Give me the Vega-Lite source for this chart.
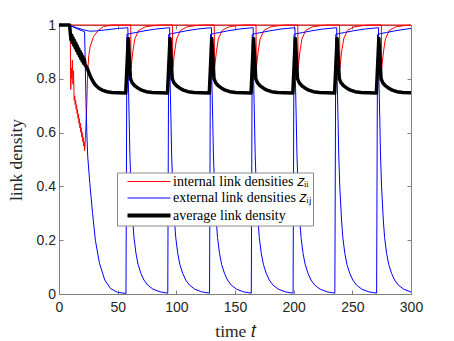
{
  "$schema": "https://vega.github.io/schema/vega-lite/v6.json",
  "width": 352,
  "height": 269,
  "autosize": "none",
  "padding": {"left": 59, "top": 25, "right": 43, "bottom": 47},
  "background": "white",
  "config": {
    "view": {"stroke": "#808080", "strokeWidth": 1},
    "axis": {
      "domainColor": "#808080", "tickColor": "#808080", "labelColor": "#262626", "titleColor": "#262626",
      "labelFont": "Liberation Sans", "labelFontSize": 14, "titleFont": "Liberation Serif", "titleFontSize": 17.5,
      "titleFontWeight": "normal", "grid": false, "tickSize": -4, "labelFlush": false
    }
  },
  "datasets": {
    "red": [
      {"k":"i","g":"R0","t":0,"v":1},{"k":"i","g":"R0","t":300,"v":1},
      {"k":"i","g":"R1","t":0,"v":1},{"k":"i","g":"R1","t":9.6,"v":1},{"k":"i","g":"R1","t":10,"v":0.76},{"k":"i","g":"R1","t":10.5,"v":0.84},{"k":"i","g":"R1","t":10.9,"v":0.8},{"k":"i","g":"R1","t":11.4,"v":0.87},{"k":"i","g":"R1","t":11.9,"v":0.78},{"k":"i","g":"R1","t":12.4,"v":0.83},{"k":"i","g":"R1","t":12.9,"v":0.72},
      {"k":"i","g":"R1","t":13.4,"v":0.737},{"k":"i","g":"R1","t":13.8,"v":0.704},{"k":"i","g":"R1","t":14.2,"v":0.72},{"k":"i","g":"R1","t":14.6,"v":0.687},{"k":"i","g":"R1","t":15,"v":0.703},{"k":"i","g":"R1","t":15.4,"v":0.67},{"k":"i","g":"R1","t":15.8,"v":0.686},{"k":"i","g":"R1","t":16.2,"v":0.653},{"k":"i","g":"R1","t":16.6,"v":0.669},{"k":"i","g":"R1","t":17,"v":0.635},{"k":"i","g":"R1","t":17.4,"v":0.652},{"k":"i","g":"R1","t":17.8,"v":0.618},{"k":"i","g":"R1","t":18.2,"v":0.635},{"k":"i","g":"R1","t":18.6,"v":0.601},{"k":"i","g":"R1","t":19,"v":0.618},{"k":"i","g":"R1","t":19.4,"v":0.584},{"k":"i","g":"R1","t":19.8,"v":0.6},{"k":"i","g":"R1","t":20.2,"v":0.567},{"k":"i","g":"R1","t":20.6,"v":0.583},{"k":"i","g":"R1","t":21,"v":0.55},{"k":"i","g":"R1","t":21.4,"v":0.566},{"k":"i","g":"R1","t":21.8,"v":0.533},
      {"k":"i","g":"R1","t":22.3,"v":0.56},{"k":"i","g":"R1","t":23.7,"v":0.709},{"k":"i","g":"R1","t":24.5,"v":0.833},{"k":"i","g":"R1","t":25.5,"v":0.89},{"k":"i","g":"R1","t":26.6,"v":0.92},{"k":"i","g":"R1","t":29.4,"v":0.957},{"k":"i","g":"R1","t":33.7,"v":0.981},{"k":"i","g":"R1","t":37.9,"v":0.994},{"k":"i","g":"R1","t":45,"v":1},
      {"k":"i","g":"R1","t":61.1,"v":1},{"k":"i","g":"R1","t":61.4,"v":0.84},{"k":"i","g":"R1","t":62.9,"v":0.9},{"k":"i","g":"R1","t":64.6,"v":0.948},{"k":"i","g":"R1","t":67.9,"v":0.98},{"k":"i","g":"R1","t":73.4,"v":0.993},{"k":"i","g":"R1","t":81.4,"v":0.998},{"k":"i","g":"R1","t":87.4,"v":1},
      {"k":"i","g":"R1","t":96.7,"v":1},{"k":"i","g":"R1","t":97,"v":0.84},{"k":"i","g":"R1","t":98.5,"v":0.9},{"k":"i","g":"R1","t":100.2,"v":0.948},{"k":"i","g":"R1","t":103.5,"v":0.98},{"k":"i","g":"R1","t":109,"v":0.993},{"k":"i","g":"R1","t":117,"v":0.998},{"k":"i","g":"R1","t":123,"v":1},
      {"k":"i","g":"R1","t":132.3,"v":1},{"k":"i","g":"R1","t":132.6,"v":0.84},{"k":"i","g":"R1","t":134.1,"v":0.9},{"k":"i","g":"R1","t":135.8,"v":0.948},{"k":"i","g":"R1","t":139.1,"v":0.98},{"k":"i","g":"R1","t":144.6,"v":0.993},{"k":"i","g":"R1","t":152.6,"v":0.998},{"k":"i","g":"R1","t":158.6,"v":1},
      {"k":"i","g":"R1","t":167.9,"v":1},{"k":"i","g":"R1","t":168.2,"v":0.84},{"k":"i","g":"R1","t":169.7,"v":0.9},{"k":"i","g":"R1","t":171.4,"v":0.948},{"k":"i","g":"R1","t":174.7,"v":0.98},{"k":"i","g":"R1","t":180.2,"v":0.993},{"k":"i","g":"R1","t":188.2,"v":0.998},{"k":"i","g":"R1","t":194.2,"v":1},
      {"k":"i","g":"R1","t":203.5,"v":1},{"k":"i","g":"R1","t":203.8,"v":0.84},{"k":"i","g":"R1","t":205.3,"v":0.9},{"k":"i","g":"R1","t":207,"v":0.948},{"k":"i","g":"R1","t":210.3,"v":0.98},{"k":"i","g":"R1","t":215.8,"v":0.993},{"k":"i","g":"R1","t":223.8,"v":0.998},{"k":"i","g":"R1","t":229.8,"v":1},
      {"k":"i","g":"R1","t":239.1,"v":1},{"k":"i","g":"R1","t":239.4,"v":0.84},{"k":"i","g":"R1","t":240.9,"v":0.9},{"k":"i","g":"R1","t":242.6,"v":0.948},{"k":"i","g":"R1","t":245.9,"v":0.98},{"k":"i","g":"R1","t":251.4,"v":0.993},{"k":"i","g":"R1","t":259.4,"v":0.998},{"k":"i","g":"R1","t":265.4,"v":1},
      {"k":"i","g":"R1","t":274.7,"v":1},{"k":"i","g":"R1","t":275,"v":0.84},{"k":"i","g":"R1","t":276.5,"v":0.9},{"k":"i","g":"R1","t":278.2,"v":0.948},{"k":"i","g":"R1","t":281.5,"v":0.98},{"k":"i","g":"R1","t":287,"v":0.993},{"k":"i","g":"R1","t":295,"v":0.998},{"k":"i","g":"R1","t":300,"v":1}
    ],
    "blue": [
      {"k":"e","g":"A","t":0,"v":1},{"k":"e","g":"A","t":8,"v":1},{"k":"e","g":"A","t":12,"v":0.993},{"k":"e","g":"A","t":16,"v":0.985},{"k":"e","g":"A","t":20,"v":0.978},{"k":"e","g":"A","t":21.8,"v":0.975},{"k":"e","g":"A","t":22.4,"v":0.85},{"k":"e","g":"A","t":23,"v":0.72},{"k":"e","g":"A","t":23.7,"v":0.6},{"k":"e","g":"A","t":24.5,"v":0.51},{"k":"e","g":"A","t":26.3,"v":0.41},{"k":"e","g":"A","t":28.6,"v":0.3},{"k":"e","g":"A","t":31,"v":0.2},{"k":"e","g":"A","t":34.5,"v":0.114},{"k":"e","g":"A","t":39,"v":0.052},{"k":"e","g":"A","t":44,"v":0.02},{"k":"e","g":"A","t":50,"v":0.006},{"k":"e","g":"A","t":57.1,"v":0.002},
      {"k":"e","g":"A","t":57.9,"v":0.965},{"k":"e","g":"A","t":60.4,"v":0.968},{"k":"e","g":"A","t":65.4,"v":0.972},{"k":"e","g":"A","t":72.4,"v":0.978},{"k":"e","g":"A","t":82.4,"v":0.985},{"k":"e","g":"A","t":94.3,"v":0.99},
      {"k":"e","g":"A","t":94.7,"v":0.79},{"k":"e","g":"A","t":95.4,"v":0.65},{"k":"e","g":"A","t":96,"v":0.52},{"k":"e","g":"A","t":96.9,"v":0.4},{"k":"e","g":"A","t":98.4,"v":0.275},{"k":"e","g":"A","t":99.5,"v":0.21},{"k":"e","g":"A","t":101.2,"v":0.151},{"k":"e","g":"A","t":103,"v":0.11},{"k":"e","g":"A","t":105.4,"v":0.077},{"k":"e","g":"A","t":108,"v":0.052},{"k":"e","g":"A","t":111.2,"v":0.033},{"k":"e","g":"A","t":115.7,"v":0.018},{"k":"e","g":"A","t":121.7,"v":0.008},{"k":"e","g":"A","t":128.3,"v":0.003},
      {"k":"e","g":"A","t":129.1,"v":0.965},{"k":"e","g":"A","t":131.6,"v":0.968},{"k":"e","g":"A","t":136.6,"v":0.972},{"k":"e","g":"A","t":143.6,"v":0.978},{"k":"e","g":"A","t":153.6,"v":0.985},{"k":"e","g":"A","t":165.5,"v":0.99},
      {"k":"e","g":"A","t":165.9,"v":0.79},{"k":"e","g":"A","t":166.6,"v":0.65},{"k":"e","g":"A","t":167.2,"v":0.52},{"k":"e","g":"A","t":168.1,"v":0.4},{"k":"e","g":"A","t":169.6,"v":0.275},{"k":"e","g":"A","t":170.7,"v":0.21},{"k":"e","g":"A","t":172.4,"v":0.151},{"k":"e","g":"A","t":174.2,"v":0.11},{"k":"e","g":"A","t":176.6,"v":0.077},{"k":"e","g":"A","t":179.2,"v":0.052},{"k":"e","g":"A","t":182.4,"v":0.033},{"k":"e","g":"A","t":186.9,"v":0.018},{"k":"e","g":"A","t":192.9,"v":0.008},{"k":"e","g":"A","t":199.5,"v":0.003},
      {"k":"e","g":"A","t":200.3,"v":0.965},{"k":"e","g":"A","t":202.8,"v":0.968},{"k":"e","g":"A","t":207.8,"v":0.972},{"k":"e","g":"A","t":214.8,"v":0.978},{"k":"e","g":"A","t":224.8,"v":0.985},{"k":"e","g":"A","t":236.7,"v":0.99},
      {"k":"e","g":"A","t":237.1,"v":0.79},{"k":"e","g":"A","t":237.8,"v":0.65},{"k":"e","g":"A","t":238.4,"v":0.52},{"k":"e","g":"A","t":239.3,"v":0.4},{"k":"e","g":"A","t":240.8,"v":0.275},{"k":"e","g":"A","t":241.9,"v":0.21},{"k":"e","g":"A","t":243.6,"v":0.151},{"k":"e","g":"A","t":245.4,"v":0.11},{"k":"e","g":"A","t":247.8,"v":0.077},{"k":"e","g":"A","t":250.4,"v":0.052},{"k":"e","g":"A","t":253.6,"v":0.033},{"k":"e","g":"A","t":258.1,"v":0.018},{"k":"e","g":"A","t":264.1,"v":0.008},{"k":"e","g":"A","t":270.7,"v":0.003},
      {"k":"e","g":"A","t":271.5,"v":0.965},{"k":"e","g":"A","t":274,"v":0.968},{"k":"e","g":"A","t":279,"v":0.972},{"k":"e","g":"A","t":286,"v":0.978},{"k":"e","g":"A","t":296,"v":0.985},{"k":"e","g":"A","t":300,"v":0.987},
      {"k":"e","g":"B","t":0,"v":1},{"k":"e","g":"B","t":8,"v":1},{"k":"e","g":"B","t":15,"v":0.99},{"k":"e","g":"B","t":21,"v":0.982},{"k":"e","g":"B","t":26,"v":0.977},{"k":"e","g":"B","t":32,"v":0.978},{"k":"e","g":"B","t":40,"v":0.982},{"k":"e","g":"B","t":50,"v":0.987},{"k":"e","g":"B","t":58.7,"v":0.99},
      {"k":"e","g":"B","t":59.1,"v":0.79},{"k":"e","g":"B","t":59.8,"v":0.65},{"k":"e","g":"B","t":60.4,"v":0.52},{"k":"e","g":"B","t":61.3,"v":0.4},{"k":"e","g":"B","t":62.8,"v":0.275},{"k":"e","g":"B","t":63.9,"v":0.21},{"k":"e","g":"B","t":65.6,"v":0.151},{"k":"e","g":"B","t":67.4,"v":0.11},{"k":"e","g":"B","t":69.8,"v":0.077},{"k":"e","g":"B","t":72.4,"v":0.052},{"k":"e","g":"B","t":75.6,"v":0.033},{"k":"e","g":"B","t":80.1,"v":0.018},{"k":"e","g":"B","t":86.1,"v":0.008},{"k":"e","g":"B","t":92.7,"v":0.003},
      {"k":"e","g":"B","t":93.5,"v":0.965},{"k":"e","g":"B","t":96,"v":0.968},{"k":"e","g":"B","t":101,"v":0.972},{"k":"e","g":"B","t":108,"v":0.978},{"k":"e","g":"B","t":118,"v":0.985},{"k":"e","g":"B","t":129.9,"v":0.99},
      {"k":"e","g":"B","t":130.3,"v":0.79},{"k":"e","g":"B","t":131,"v":0.65},{"k":"e","g":"B","t":131.6,"v":0.52},{"k":"e","g":"B","t":132.5,"v":0.4},{"k":"e","g":"B","t":134,"v":0.275},{"k":"e","g":"B","t":135.1,"v":0.21},{"k":"e","g":"B","t":136.8,"v":0.151},{"k":"e","g":"B","t":138.6,"v":0.11},{"k":"e","g":"B","t":141,"v":0.077},{"k":"e","g":"B","t":143.6,"v":0.052},{"k":"e","g":"B","t":146.8,"v":0.033},{"k":"e","g":"B","t":151.3,"v":0.018},{"k":"e","g":"B","t":157.3,"v":0.008},{"k":"e","g":"B","t":163.9,"v":0.003},
      {"k":"e","g":"B","t":164.7,"v":0.965},{"k":"e","g":"B","t":167.2,"v":0.968},{"k":"e","g":"B","t":172.2,"v":0.972},{"k":"e","g":"B","t":179.2,"v":0.978},{"k":"e","g":"B","t":189.2,"v":0.985},{"k":"e","g":"B","t":201.1,"v":0.99},
      {"k":"e","g":"B","t":201.5,"v":0.79},{"k":"e","g":"B","t":202.2,"v":0.65},{"k":"e","g":"B","t":202.8,"v":0.52},{"k":"e","g":"B","t":203.7,"v":0.4},{"k":"e","g":"B","t":205.2,"v":0.275},{"k":"e","g":"B","t":206.3,"v":0.21},{"k":"e","g":"B","t":208,"v":0.151},{"k":"e","g":"B","t":209.8,"v":0.11},{"k":"e","g":"B","t":212.2,"v":0.077},{"k":"e","g":"B","t":214.8,"v":0.052},{"k":"e","g":"B","t":218,"v":0.033},{"k":"e","g":"B","t":222.5,"v":0.018},{"k":"e","g":"B","t":228.5,"v":0.008},{"k":"e","g":"B","t":235.1,"v":0.003},
      {"k":"e","g":"B","t":235.9,"v":0.965},{"k":"e","g":"B","t":238.4,"v":0.968},{"k":"e","g":"B","t":243.4,"v":0.972},{"k":"e","g":"B","t":250.4,"v":0.978},{"k":"e","g":"B","t":260.4,"v":0.985},{"k":"e","g":"B","t":272.3,"v":0.99},
      {"k":"e","g":"B","t":272.7,"v":0.79},{"k":"e","g":"B","t":273.4,"v":0.65},{"k":"e","g":"B","t":274,"v":0.52},{"k":"e","g":"B","t":274.9,"v":0.4},{"k":"e","g":"B","t":276.4,"v":0.275},{"k":"e","g":"B","t":277.5,"v":0.21},{"k":"e","g":"B","t":279.2,"v":0.151},{"k":"e","g":"B","t":281,"v":0.11},{"k":"e","g":"B","t":283.4,"v":0.077},{"k":"e","g":"B","t":286,"v":0.052},{"k":"e","g":"B","t":289.2,"v":0.033},{"k":"e","g":"B","t":293.7,"v":0.018},{"k":"e","g":"B","t":300,"v":0.0075}
    ],
    "black": [
      {"k":"a","g":"K","t":0,"v":1},{"k":"a","g":"K","t":9,"v":1},{"k":"a","g":"K","t":9.6,"v":0.972},{"k":"a","g":"K","t":10.2,"v":0.945},{"k":"a","g":"K","t":10.8,"v":0.962},{"k":"a","g":"K","t":11.4,"v":0.935},{"k":"a","g":"K","t":12,"v":0.952},{"k":"a","g":"K","t":12.6,"v":0.925},{"k":"a","g":"K","t":13.2,"v":0.942},{"k":"a","g":"K","t":13.8,"v":0.915},{"k":"a","g":"K","t":14.4,"v":0.932},{"k":"a","g":"K","t":15,"v":0.905},{"k":"a","g":"K","t":15.6,"v":0.922},{"k":"a","g":"K","t":16.2,"v":0.895},{"k":"a","g":"K","t":16.8,"v":0.912},{"k":"a","g":"K","t":17.4,"v":0.885},{"k":"a","g":"K","t":18,"v":0.902},{"k":"a","g":"K","t":18.6,"v":0.875},{"k":"a","g":"K","t":19.2,"v":0.892},{"k":"a","g":"K","t":19.8,"v":0.866},{"k":"a","g":"K","t":20.4,"v":0.882},{"k":"a","g":"K","t":21,"v":0.858},{"k":"a","g":"K","t":21.6,"v":0.872},{"k":"a","g":"K","t":22.2,"v":0.852},
      {"k":"a","g":"K","t":24,"v":0.84},{"k":"a","g":"K","t":26.8,"v":0.808},{"k":"a","g":"K","t":29,"v":0.79},{"k":"a","g":"K","t":31,"v":0.777},{"k":"a","g":"K","t":34,"v":0.765},{"k":"a","g":"K","t":36.8,"v":0.758},{"k":"a","g":"K","t":41,"v":0.752},{"k":"a","g":"K","t":45,"v":0.749},{"k":"a","g":"K","t":50,"v":0.748},
      {"k":"a","g":"K","t":56.9,"v":0.747},{"k":"a","g":"K","t":59,"v":0.95},{"k":"a","g":"K","t":60.9,"v":0.8},{"k":"a","g":"K","t":62.4,"v":0.785},{"k":"a","g":"K","t":64.4,"v":0.775},{"k":"a","g":"K","t":67.4,"v":0.765},{"k":"a","g":"K","t":70.4,"v":0.758},{"k":"a","g":"K","t":74.4,"v":0.752},{"k":"a","g":"K","t":79.4,"v":0.749},{"k":"a","g":"K","t":85.4,"v":0.748},
      {"k":"a","g":"K","t":92.5,"v":0.747},{"k":"a","g":"K","t":94.6,"v":0.95},{"k":"a","g":"K","t":96.5,"v":0.8},{"k":"a","g":"K","t":98,"v":0.785},{"k":"a","g":"K","t":100,"v":0.775},{"k":"a","g":"K","t":103,"v":0.765},{"k":"a","g":"K","t":106,"v":0.758},{"k":"a","g":"K","t":110,"v":0.752},{"k":"a","g":"K","t":115,"v":0.749},{"k":"a","g":"K","t":121,"v":0.748},
      {"k":"a","g":"K","t":128.1,"v":0.747},{"k":"a","g":"K","t":130.2,"v":0.95},{"k":"a","g":"K","t":132.1,"v":0.8},{"k":"a","g":"K","t":133.6,"v":0.785},{"k":"a","g":"K","t":135.6,"v":0.775},{"k":"a","g":"K","t":138.6,"v":0.765},{"k":"a","g":"K","t":141.6,"v":0.758},{"k":"a","g":"K","t":145.6,"v":0.752},{"k":"a","g":"K","t":150.6,"v":0.749},{"k":"a","g":"K","t":156.6,"v":0.748},
      {"k":"a","g":"K","t":163.7,"v":0.747},{"k":"a","g":"K","t":165.8,"v":0.95},{"k":"a","g":"K","t":167.7,"v":0.8},{"k":"a","g":"K","t":169.2,"v":0.785},{"k":"a","g":"K","t":171.2,"v":0.775},{"k":"a","g":"K","t":174.2,"v":0.765},{"k":"a","g":"K","t":177.2,"v":0.758},{"k":"a","g":"K","t":181.2,"v":0.752},{"k":"a","g":"K","t":186.2,"v":0.749},{"k":"a","g":"K","t":192.2,"v":0.748},
      {"k":"a","g":"K","t":199.3,"v":0.747},{"k":"a","g":"K","t":201.4,"v":0.95},{"k":"a","g":"K","t":203.3,"v":0.8},{"k":"a","g":"K","t":204.8,"v":0.785},{"k":"a","g":"K","t":206.8,"v":0.775},{"k":"a","g":"K","t":209.8,"v":0.765},{"k":"a","g":"K","t":212.8,"v":0.758},{"k":"a","g":"K","t":216.8,"v":0.752},{"k":"a","g":"K","t":221.8,"v":0.749},{"k":"a","g":"K","t":227.8,"v":0.748},
      {"k":"a","g":"K","t":234.9,"v":0.747},{"k":"a","g":"K","t":237,"v":0.95},{"k":"a","g":"K","t":238.9,"v":0.8},{"k":"a","g":"K","t":240.4,"v":0.785},{"k":"a","g":"K","t":242.4,"v":0.775},{"k":"a","g":"K","t":245.4,"v":0.765},{"k":"a","g":"K","t":248.4,"v":0.758},{"k":"a","g":"K","t":252.4,"v":0.752},{"k":"a","g":"K","t":257.4,"v":0.749},{"k":"a","g":"K","t":263.4,"v":0.748},
      {"k":"a","g":"K","t":270.5,"v":0.747},{"k":"a","g":"K","t":272.6,"v":0.95},{"k":"a","g":"K","t":274.5,"v":0.8},{"k":"a","g":"K","t":276,"v":0.785},{"k":"a","g":"K","t":278,"v":0.775},{"k":"a","g":"K","t":281,"v":0.765},{"k":"a","g":"K","t":284,"v":0.758},{"k":"a","g":"K","t":288,"v":0.752},{"k":"a","g":"K","t":293,"v":0.749},{"k":"a","g":"K","t":300,"v":0.748}
    ]
  },
  "resolve": {"axis": {"x": "independent", "y": "independent"}},
  "layer": [
    {
      "data": {"name": "red"},
      "mark": {"type": "line", "strokeJoin": "round", "strokeWidth": 1},
      "encoding": {
        "x": {"field": "t", "type": "quantitative", "scale": {"domain": [0, 300], "nice": false, "zero": false},
              "axis": {"orient": "bottom", "values": [0, 50, 100, 150, 200, 250, 300], "title": "time 𝑡", "labelPadding": 10, "titlePadding": 8}},
        "y": {"field": "v", "type": "quantitative", "scale": {"domain": [0, 1], "nice": false},
              "axis": {"orient": "left", "values": [0, 0.2, 0.4, 0.6, 0.8, 1], "format": "~g", "title": "link density", "labelPadding": 7.5, "titlePadding": 11}},
        "color": {"field": "k", "type": "nominal", "scale": {"domain": ["i", "e", "a"], "range": ["#ff0000", "#0000ff", "#000000"]},
                  "legend": {"orient": "none", "legendX": 58, "legendY": 147.5, "title": null, "fillColor": "white", "strokeColor": "#8c8c8c",
                             "padding": 2, "symbolType": "stroke", "symbolSize": 16, "symbolOffset": 23, "labelFont": "Liberation Serif", "labelFontSize": 14,
                             "labelColor": "black", "labelOffset": 17, "rowPadding": 2.5, "labelLimit": 300,
                             "encode": {"symbols": {"update": {"size": {"value": 1849},
                                 "stroke": {"signal": "datum.value === 'i' ? '#ff0000' : datum.value === 'e' ? '#0000ff' : '#000000'"},
                                 "strokeWidth": {"signal": "datum.value === 'a' ? 4 : 1.2"}}}},
                             "labelExpr": "datum.value == 'i' ? 'internal link densities 𝑧ᵢᵢ' : datum.value == 'e' ? 'external link densities 𝑧ᵢⱼ' : 'average link density'"}},
        "detail": {"field": "g", "type": "nominal"}
      }
    },
    {
      "data": {"name": "blue"},
      "mark": {"type": "line", "strokeJoin": "round", "strokeWidth": 1},
      "encoding": {
        "x": {"field": "t", "type": "quantitative", "axis": {"orient": "top", "values": [0, 50, 100, 150, 200, 250, 300], "labels": false, "title": null, "domain": false}},
        "y": {"field": "v", "type": "quantitative", "axis": {"orient": "right", "values": [0, 0.2, 0.4, 0.6, 0.8, 1], "labels": false, "title": null, "domain": false}},
        "color": {"field": "k", "type": "nominal"},
        "detail": {"field": "g", "type": "nominal"}
      }
    },
    {
      "data": {"name": "black"},
      "mark": {"type": "line", "strokeJoin": "round", "strokeWidth": 3.5},
      "encoding": {
        "x": {"field": "t", "type": "quantitative", "axis": null},
        "y": {"field": "v", "type": "quantitative", "axis": null},
        "color": {"field": "k", "type": "nominal"},
        "detail": {"field": "g", "type": "nominal"}
      }
    }
  ]
}
